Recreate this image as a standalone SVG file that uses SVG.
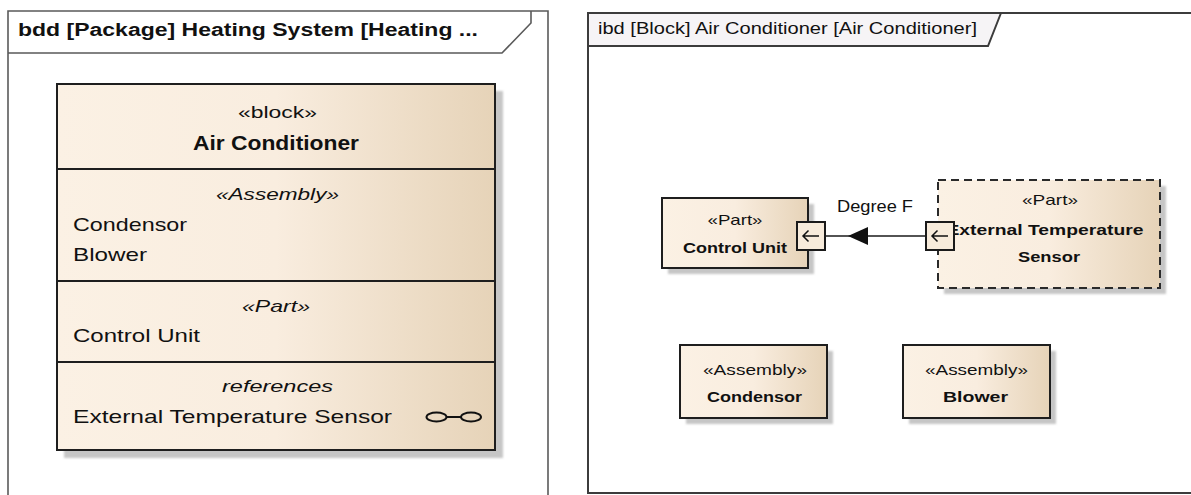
<svg xmlns="http://www.w3.org/2000/svg" width="1191" height="495" viewBox="0 0 1191 495">
  <style>
    text { font-family: "Liberation Sans", Arial, sans-serif; fill: #111; }
    .frame { fill: none; stroke: #5a5a5a; stroke-width: 1.6; }
    .frame2 { fill: none; stroke: #3c3c3c; stroke-width: 2; }
    .box { fill: url(#beige); stroke: #1e1e1e; stroke-width: 2; }
    .dashed { fill: url(#beige); stroke: #2a2a2a; stroke-width: 2; stroke-dasharray: 8 5; }
    .shadow { fill: #c6c6c6; }
    .div { stroke: #1e1e1e; stroke-width: 2; }
    .port { fill: #f7ebdb; stroke: #1a1a1a; stroke-width: 2; }
    .glyph { fill: none; stroke: #111; stroke-width: 1.5; }
    .conn { fill: none; stroke: #1a1a1a; stroke-width: 1.6; }
    .b { font-weight: bold; }
    .i { font-style: italic; }
    .m { text-anchor: middle; }
  </style>
  <defs>
    <linearGradient id="beige" x1="0" y1="0" x2="1" y2="0">
      <stop offset="0" stop-color="#fbf1e4"/>
      <stop offset="0.5" stop-color="#f9eddf"/>
      <stop offset="1" stop-color="#e6d3b8"/>
    </linearGradient>
    <filter id="soft" x="-10%" y="-10%" width="120%" height="120%">
      <feGaussianBlur stdDeviation="1.2"/>
    </filter>
    <!-- filled flow arrow, tip at the reference point, body trailing behind -->
    <marker id="flow" markerWidth="22" markerHeight="22" refX="20" refY="10" orient="auto" markerUnits="userSpaceOnUse">
      <path d="M20,10 L0,1 L0,19 Z" fill="#111"/>
    </marker>
  </defs>

  <!-- bdd frame -->
  <g id="bdd-frame">
    <path class="frame" d="M8,495 L8,11 L548,11 L548,495"/>
    <path class="frame" d="M8,53 L502,53 L531,23 L531,11"/>
    <text class="b" x="18" y="36" font-size="18" textLength="460" lengthAdjust="spacingAndGlyphs">bdd [Package] Heating System [Heating ...</text>
  </g>

  <!-- block Air Conditioner -->
  <g id="block-air-conditioner">
    <rect class="shadow" x="64" y="91" width="439" height="367" filter="url(#soft)"/>
    <rect class="box" x="57" y="84" width="438" height="366"/>
    <line class="div" x1="57" y1="169" x2="495" y2="169"/>
    <line class="div" x1="57" y1="281" x2="495" y2="281"/>
    <line class="div" x1="57" y1="362" x2="495" y2="362"/>
    <text class="m" x="277.5" y="118" font-size="17" textLength="79" lengthAdjust="spacingAndGlyphs">«block»</text>
    <text class="b m" x="276" y="150" font-size="20" textLength="166" lengthAdjust="spacingAndGlyphs">Air Conditioner</text>
    <text class="i m" x="277.5" y="200" font-size="17" textLength="123" lengthAdjust="spacingAndGlyphs">«Assembly»</text>
    <text x="73" y="231" font-size="19" textLength="114" lengthAdjust="spacingAndGlyphs">Condensor</text>
    <text x="73" y="261" font-size="19" textLength="74" lengthAdjust="spacingAndGlyphs">Blower</text>
    <text class="i m" x="276" y="312" font-size="17" textLength="68" lengthAdjust="spacingAndGlyphs">«Part»</text>
    <text x="73" y="342" font-size="19" textLength="127" lengthAdjust="spacingAndGlyphs">Control Unit</text>
    <text class="i m" x="277.5" y="392" font-size="17" textLength="111" lengthAdjust="spacingAndGlyphs">references</text>
    <text x="73" y="423" font-size="19" textLength="319" lengthAdjust="spacingAndGlyphs">External Temperature Sensor</text>
    <!-- reference icon -->
    <ellipse cx="436.5" cy="417" rx="10" ry="4.5" fill="none" stroke="#111" stroke-width="2"/>
    <ellipse cx="471" cy="417" rx="10" ry="4.5" fill="none" stroke="#111" stroke-width="2"/>
    <line x1="446.5" y1="417" x2="461" y2="417" stroke="#111" stroke-width="2"/>
  </g>

  <!-- ibd frame -->
  <g id="ibd-frame">
    <path d="M588,13 L1001,13 L988,46 L588,46 Z" fill="#f6f4f6"/>
    <path class="frame2" d="M1191,13 L588,13 L588,493 L1191,493"/>
    <path class="frame2" d="M588,46 L988,46 L1001,13"/>
    <text x="598" y="34" font-size="17" textLength="379" lengthAdjust="spacingAndGlyphs">ibd [Block] Air Conditioner [Air Conditioner]</text>
  </g>

  <!-- part Control Unit -->
  <g id="part-control-unit">
    <rect class="shadow" x="668" y="204" width="146" height="70" filter="url(#soft)"/>
    <rect class="box" x="662" y="198" width="146" height="70"/>
    <text class="m" x="735" y="225" font-size="15" textLength="55" lengthAdjust="spacingAndGlyphs">«Part»</text>
    <text class="b m" x="735" y="253" font-size="15" textLength="104" lengthAdjust="spacingAndGlyphs">Control Unit</text>
  </g>

  <!-- part External Temperature Sensor -->
  <g id="part-external-temperature-sensor">
    <rect class="shadow" x="944" y="186" width="222" height="108" filter="url(#soft)"/>
    <rect class="dashed" x="938" y="180" width="222" height="108"/>
    <text class="m" x="1050" y="205" font-size="15" textLength="56" lengthAdjust="spacingAndGlyphs">«Part»</text>
    <text class="b m" x="1045" y="235" font-size="15" textLength="197" lengthAdjust="spacingAndGlyphs">External Temperature</text>
    <text class="b m" x="1049" y="262" font-size="15" textLength="62" lengthAdjust="spacingAndGlyphs">Sensor</text>
  </g>

  <!-- ports -->
  <g id="port-control-unit">
    <rect class="port" x="797" y="222" width="28" height="28"/>
    <path class="glyph" d="M819,236 L803,236 M808.5,230.5 L803,236 L808.5,241.5"/>
  </g>
  <g id="port-external-temperature-sensor">
    <rect class="port" x="926" y="222" width="28" height="28"/>
    <path class="glyph" d="M948,236 L932,236 M937.5,230.5 L932,236 L937.5,241.5"/>
  </g>

  <!-- assembly Condensor -->
  <g id="assembly-condensor">
    <rect class="shadow" x="686" y="351" width="147" height="73" filter="url(#soft)"/>
    <rect class="box" x="680" y="345" width="147" height="73"/>
    <text class="m" x="755" y="375" font-size="15" textLength="104" lengthAdjust="spacingAndGlyphs">«Assembly»</text>
    <text class="b m" x="754.5" y="402" font-size="15" textLength="95" lengthAdjust="spacingAndGlyphs">Condensor</text>
  </g>

  <!-- assembly Blower -->
  <g id="assembly-blower">
    <rect class="shadow" x="909" y="351" width="147" height="73" filter="url(#soft)"/>
    <rect class="box" x="903" y="345" width="147" height="73"/>
    <text class="m" x="976.5" y="375" font-size="15" textLength="103" lengthAdjust="spacingAndGlyphs">«Assembly»</text>
    <text class="b m" x="975.5" y="402" font-size="15" textLength="65" lengthAdjust="spacingAndGlyphs">Blower</text>
  </g>

  <!-- connectors -->
  <g id="connectors">
    <path class="conn" d="M926,236 L848,236 L825,236" marker-mid="url(#flow)"/>
    <text x="837" y="212" font-size="16" textLength="76" lengthAdjust="spacingAndGlyphs">Degree F</text>
  </g>
</svg>
